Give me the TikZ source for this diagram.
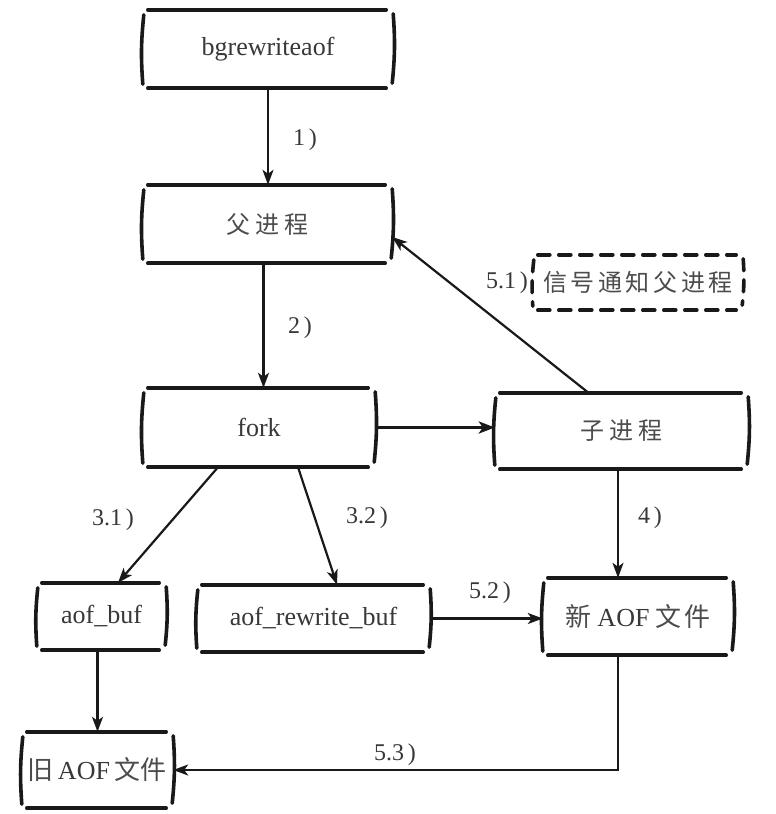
\documentclass[tikz,border=0pt]{standalone}
\usepackage{fontspec}
\setmainfont{Liberation Serif}
\newfontfamily\cjk{Noto Sans CJK SC}
\usetikzlibrary{arrows.meta}
\newcommand\skframe[2][]{%
  \draw[frame,#1] ([xshift=5pt]#2.north west) -- ([xshift=-7pt]#2.north east);
  \draw[frame,#1] ([xshift=5pt]#2.south west) -- ([xshift=-7pt]#2.south east);
  \draw[frame,#1] ([xshift=1pt,yshift=-5pt]#2.north west) to[bend right=5] ([yshift=4pt]#2.south west);
  \draw[frame,#1] ([yshift=-4pt]#2.north east) to[bend left=5] ([xshift=-1pt,yshift=5pt]#2.south east);
}
\newcommand\cs{\hspace{5pt}}
\newcommand\css{\hspace{3.5pt}}
\begin{document}
\begin{tikzpicture}[x=1pt,y=-1pt,
  frame/.style={line width=3.6pt, line cap=round, black!90},
  dashframe/.style={dash pattern=on 12pt off 9pt},
  box/.style={inner sep=0pt, font=\fontsize{26}{30}\selectfont, text=black!78},
  lbl/.style={inner sep=0pt, font=\fontsize{24}{28}\selectfont, text=black!78},
  cjkt/.style={font=\cjk\fontsize{24}{28}\selectfont, text=black!70},
  conn/.style={line width=2.2pt, black!90, -{Stealth[length=15pt,width=11pt,inset=4pt]}},
  thickconn/.style={line width=3.8pt, black!90, -{Stealth[length=16pt,width=12pt,inset=4pt]}}]
\useasboundingbox (0,0) rectangle (776,814);
\fill[white] (0,0) rectangle (776,814);

\node[box, minimum width=250pt, minimum height=78pt] (bg) at (268,49) {bgrewriteaof};
\node[box, cjkt, minimum width=249pt, minimum height=78pt] (parent) at (267.5,224) {父\cs 进\cs 程};
\node[box, cjkt, minimum width=210pt, minimum height=55pt] (sig) at (638,282.5) {信\css 号\css 通\css 知\css 父\css 进\css 程};
\node[box, minimum width=232pt, minimum height=79pt] (fork) at (259,427.5) {fork};
\node[box, cjkt, minimum width=253pt, minimum height=76pt] (child) at (621.5,431) {子\cs 进\cs 程};
\node[box, minimum width=129pt, minimum height=67pt] (aofbuf) at (101.5,616.5) {aof\_buf};
\node[box, minimum width=233pt, minimum height=67pt] (aofrw) at (313.5,618.5) {aof\_rewrite\_buf};
\node[box, minimum width=190pt, minimum height=77pt] (newaof) at (638,616.5) {{\cjk\color{black!70}新}\hspace{6pt}AOF\hspace{6pt}{\cjk\color{black!70}文\hspace{3pt}件}};
\node[box, minimum width=151pt, minimum height=76pt] (oldaof) at (97.5,770) {{\cjk\color{black!70}旧}\hspace{4pt}AOF\hspace{4pt}{\cjk\color{black!70}文\hspace{1pt}件}};

\skframe{bg}
\skframe{parent}
\skframe[dashframe]{sig}
\skframe{fork}
\skframe{child}
\skframe{aofbuf}
\skframe{aofrw}
\skframe{newaof}
\skframe{oldaof}

\node[lbl] (l1) at (305,140) {1\,)};
\node[lbl] (l2) at (300,328) {2\,)};
\node[lbl] (l51) at (507,283) {5.1\,)};
\node[lbl] (l31) at (113,520) {3.1\,)};
\node[lbl] (l32) at (367,518) {3.2\,)};
\node[lbl] (l4) at (650,518) {4\,)};
\node[lbl] (l52) at (490,593) {5.2\,)};
\node[lbl] (l53) at (395,755) {5.3\,)};

\draw[conn] (bg.south) -- (bg.south |- parent.north);
\draw[conn] ([xshift=-4pt]parent.south) -- ([xshift=-4pt]parent.south |- fork.north);
\draw[thickconn] (fork.east) -- (fork.east -| child.west);
\draw[conn] ([xshift=-33pt]child.north) -- ([yshift=-13pt]parent.east);
\draw[conn] ([xshift=-41pt]fork.south) -- ([xshift=16.5pt]aofbuf.north);
\draw[conn] ([xshift=39pt]fork.south) -- ([xshift=23.5pt]aofrw.north);
\draw[conn] ([xshift=-3.5pt]child.south) -- ([xshift=-3.5pt]child.south |- newaof.north);
\draw[conn] (aofrw.east) -- (aofrw.east -| newaof.west);
\draw[conn] ([xshift=-4pt]aofbuf.south) -- ([xshift=-4pt]aofbuf.south |- oldaof.north);
\draw[conn] ([xshift=-20pt]newaof.south) |- (oldaof.east);
\end{tikzpicture}
\end{document}
